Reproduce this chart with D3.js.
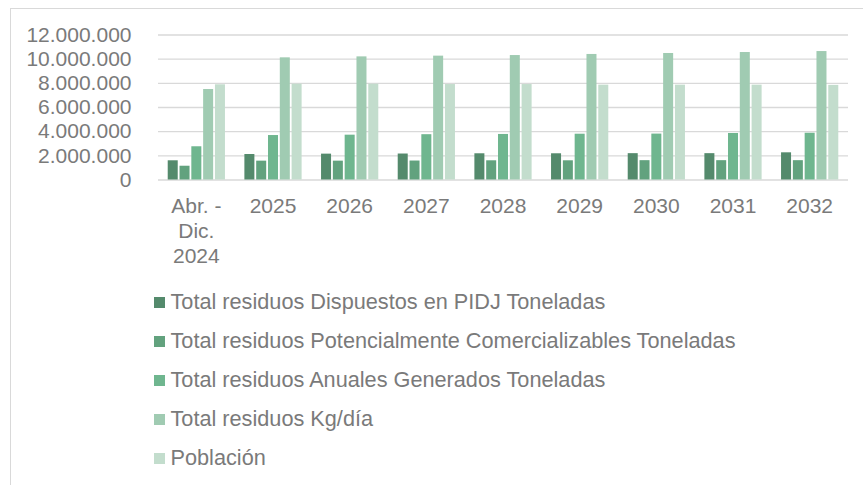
<!DOCTYPE html>
<html>
<head>
<meta charset="utf-8">
<script src="https://cdn.jsdelivr.net/npm/d3@7"></script>
<style>
  html, body { margin: 0; padding: 0; background: #fff; }
  svg text { font-family: "Liberation Sans", Arial, sans-serif; fill: #7a7a7a; }
</style>
</head>
<body>
<svg id="chart" width="863" height="485"></svg>
<script>
const categories = ["Abr. - Dic. 2024", "2025", "2026", "2027", "2028", "2029", "2030", "2031", "2032"];
const seriesNames = [
  "Total residuos Dispuestos en PIDJ Toneladas",
  "Total residuos Potencialmente Comercializables Toneladas",
  "Total residuos Anuales Generados Toneladas",
  "Total residuos Kg/día",
  "Población"
];
const dispuestos      = [1590000, 2110000, 2140000, 2150000, 2170000, 2170000, 2180000, 2180000, 2250000];
const comercializables = [1140000, 1560000, 1560000, 1570000, 1590000, 1590000, 1600000, 1600000, 1600000];
const generados       = [2750000, 3680000, 3710000, 3750000, 3770000, 3790000, 3800000, 3850000, 3870000];
const kgDia           = [7490000, 10110000, 10190000, 10250000, 10300000, 10390000, 10470000, 10550000, 10630000];
const poblacion       = [7880000, 7930000, 7930000, 7900000, 7900000, 7850000, 7850000, 7850000, 7830000];
const yTicks = [0, 2000000, 4000000, 6000000, 8000000, 10000000, 12000000];
const colors = ["#548a6c", "#62a27e", "#6fb68f", "#a0cbb2", "#c3ddcd"];

const seriesValues = [dispuestos, comercializables, generados, kgDia, poblacion];

const svg = d3.select("#chart");
const axisFont = 21;
const legendFont = 21.7;

// frame
svg.append("rect").attr("x", 10.5).attr("y", 8.5).attr("width", 870).attr("height", 500)
  .attr("fill", "none").attr("stroke", "#d9d9d9").attr("stroke-width", 1);

const plot = { left: 158, right: 848, top: 34.5, bottom: 179.5 };

const x0 = d3.scaleBand().domain(categories).range([plot.left, plot.right])
  .paddingInner(0.23).paddingOuter(0.115);
const x1 = d3.scaleBand().domain(d3.range(seriesNames.length)).range([0, x0.bandwidth()]);
const y = d3.scaleLinear().domain([0, 12000000]).range([plot.bottom, plot.top]);

const loc = d3.formatLocale({ decimal: ",", thousands: ".", grouping: [3], currency: ["", ""] });
const fmt = loc.format(",");

// gridlines + y labels
const yAxis = d3.axisLeft(y).tickValues(yTicks).tickFormat(fmt)
  .tickSize(-(plot.right - plot.left)).tickPadding(26.5);
const gy = svg.append("g").attr("transform", `translate(${plot.left},0)`).call(yAxis);
gy.select(".domain").remove();
gy.selectAll(".tick line").attr("stroke", "#d9d9d9").attr("stroke-width", 1.3);
gy.selectAll(".tick text").attr("font-size", axisFont).attr("fill", "#7a7a7a")
  .attr("font-family", "Liberation Sans, Arial, sans-serif");

// bars
const groups = svg.append("g").selectAll("g").data(categories).join("g")
  .attr("transform", d => `translate(${x0(d)},0)`);
groups.selectAll("rect")
  .data((d, i) => seriesValues.map((vals, s) => ({ s, v: vals[i] })))
  .join("rect")
  .attr("x", d => x1(d.s) + 0.9)
  .attr("width", x1.bandwidth() - 1.8)
  .attr("y", d => y(d.v))
  .attr("height", d => y(0) - y(d.v))
  .attr("fill", d => colors[d.s]);

// x axis labels with wrapping
const xAxis = d3.axisBottom(x0).tickSize(0).tickPadding(0);
const gx = svg.append("g").attr("transform", `translate(0,${plot.bottom})`).call(xAxis);
gx.select(".domain").remove();
gx.selectAll(".tick text").attr("font-size", axisFont).attr("fill", "#7a7a7a")
  .attr("font-family", "Liberation Sans, Arial, sans-serif")
  .attr("dy", null).attr("y", 33)
  .each(function(d) {
    const t = d3.select(this);
    const words = d.split(" ");
    const maxW = x0.step();
    t.text(null);
    let line = [];
    let lines = [];
    const probe = t.append("tspan");
    for (const w of words) {
      const test = line.concat([w]).join(" ");
      probe.text(test);
      if (probe.node().getComputedTextLength() > maxW && line.length) {
        lines.push(line.join(" "));
        line = [w];
      } else {
        line.push(w);
      }
    }
    lines.push(line.join(" "));
    probe.remove();
    lines.forEach((l, k) => {
      t.append("tspan").attr("x", 0).attr("y", 33 + k * 25).text(l);
    });
  });

// legend
const legend = svg.append("g").selectAll("g").data(seriesNames).join("g")
  .attr("transform", (d, i) => `translate(154,${309 + i * 39})`);
legend.append("rect").attr("x", 0).attr("y", -12).attr("width", 11).attr("height", 11)
  .attr("fill", (d, i) => colors[i]);
legend.append("text").attr("x", 16.5).attr("y", 0).attr("font-size", legendFont).text(d => d);
</script>
</body>
</html>
